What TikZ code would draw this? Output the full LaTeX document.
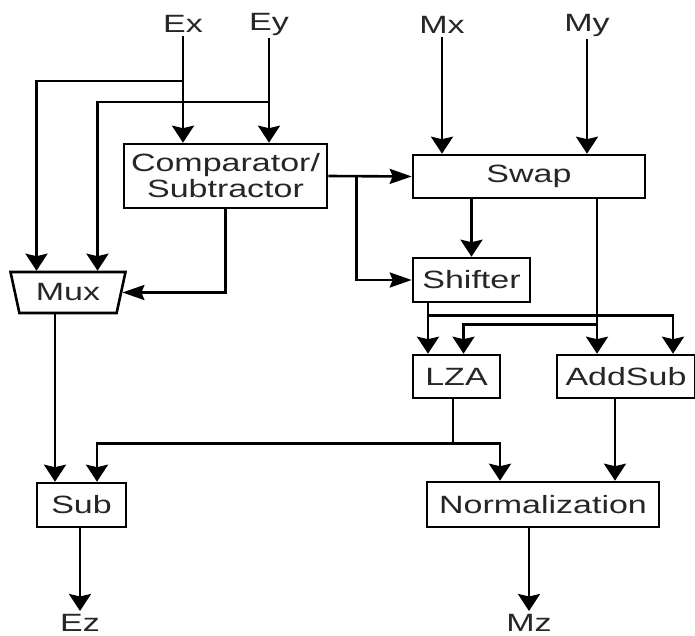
\documentclass[tikz,border=0pt]{standalone}
\usepackage{fontspec}
\setmainfont[FakeStretch=1.36]{Liberation Sans}
\usetikzlibrary{arrows.meta,shapes.geometric}
\begin{document}
\begin{tikzpicture}[x=1pt,y=-1pt,
  line width=2.6pt,
  every node/.style={font=\fontsize{25}{26}\selectfont, text=black!85},
  blk/.style={draw, rectangle, inner sep=0pt, align=center},
  lbl/.style={inner sep=2pt},
  av/.style={-{Stealth[length=17pt,width=22pt,inset=2.5pt]}},
  ah/.style={-{Stealth[length=22pt,width=15pt,inset=3pt]}}]
\useasboundingbox (0,0) rectangle (695,636);
% blocks
\node[blk, minimum width=203pt, minimum height=64pt] (cmp) at (225.5,176) {Comparator/\\Subtractor};
\node[blk, minimum width=232pt, minimum height=43pt] (swap) at (529,176.5) {Swap};
\node[blk, minimum width=117pt, minimum height=44pt] (shift) at (471.5,280) {Shifter};
\node[blk, minimum width=87pt, minimum height=43pt] (lza) at (456.5,376.5) {LZA};
\node[blk, minimum width=138pt, minimum height=43pt] (addsub) at (626,376.5) {AddSub};
\node[blk, minimum width=232pt, minimum height=45pt] (norm) at (543,504.5) {Normalization};
\node[blk, minimum width=89pt, minimum height=44pt] (sub) at (81.5,505) {Sub};
\node[draw, trapezium, shape border rotate=180, trapezium left angle=63, trapezium right angle=63,
      trapezium stretches body, minimum width=115pt, minimum height=41pt, inner sep=0pt] (mux) at (68,292.5) {Mux};
% labels
\node[lbl] (ex) at (183,24) {Ex};
\node[lbl] (ey) at (269,24) {Ey};
\node[lbl] (mx) at (442,25) {Mx};
\node[lbl] (my) at (587,25) {My};
\node[lbl, anchor=north] (ez) at (80,611) {Ez};
\node[lbl, anchor=north] (mz) at (529,611) {Mz};
% inputs
\draw[av] (ex) -- (ex |- cmp.north);
\draw[av] (ey) -- (ey |- cmp.north);
\draw[av] (mx) -- (mx |- swap.north);
\draw[av] (my) -- (my |- swap.north);
\coordinate (jex) at (183,81);
\coordinate (jey) at (269,102);
\draw[av] (jex) -| ([xshift=-31.5]mux.north);
\draw[av] (jey) -| ([xshift=29.5]mux.north);
% comparator outputs
\draw[ah] (cmp.south) |- (mux.east);
\draw[ah] (cmp.east) -- (swap.west);
\draw[ah] ([xshift=28]cmp.east) |- (shift.west);
% swap outputs
\draw[av] (shift.north |- swap.south) -- (shift.north);
\draw[av] ([xshift=-29]addsub.north |- swap.south) -- ([xshift=-29]addsub.north);
\draw[av] ([xshift=-29,yshift=29]addsub.north) -| ([xshift=7]lza.north);
% shifter outputs
\draw[av] ([xshift=-43.5]shift.south) -- ([xshift=-28.5]lza.north);
\draw[av] ([xshift=-43.5,yshift=-12]shift.south) -| ([xshift=47]addsub.north);
% lza outputs
\coordinate (jlza) at ([xshift=-3.5,yshift=-44]lza.south);
\draw ([xshift=-3.5]lza.south) -- (jlza);
\draw[av] (jlza) -| ([xshift=15.5]sub.north);
\draw[av] (jlza) -| ([xshift=-43]norm.north);
% addsub output
\draw[av] ([xshift=-11]addsub.south) -- ([xshift=-11]addsub.south |- norm.north);
% mux output
\draw[av] ([xshift=-13]mux.south) -- ([xshift=-13]mux.south |- sub.north);
% final outputs
\draw[av] ([xshift=-1.5]sub.south) -- (ez);
\draw[av] ([xshift=-14]norm.south) -- (mz);
\end{tikzpicture}
\end{document}
